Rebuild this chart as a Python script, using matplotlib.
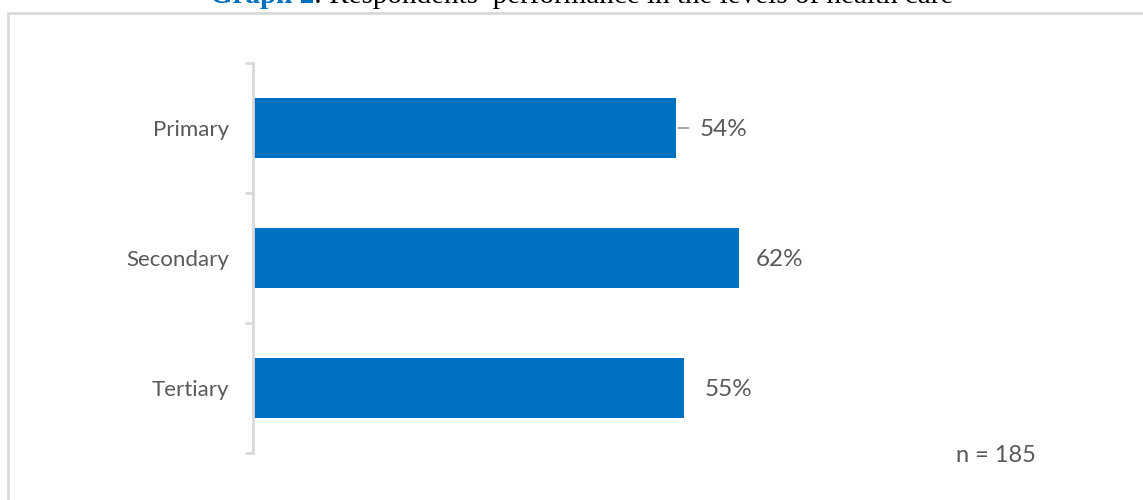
import matplotlib.pyplot as plt
from matplotlib.patches import Rectangle

# data
levels = ['Primary', 'Secondary', 'Tertiary']
performance = [54, 62, 55]
value_labels = ['54%', '62%', '55%']
sample_note = 'n = 185'

# style
bar_color = '#0070C0'
text_gray = '#595959'
axis_gray = '#D9D9D9'
label_offsets = [23, 17, 20]  # px gap between bar end and label
W, H = 1143, 500

fig = plt.figure(figsize=(W / 100, H / 100), dpi=100)

# outer chart frame (cut at right and bottom like the screenshot)
fig.patches.append(Rectangle((8 / W, -0.1), 1.2, 1 - 12.5 / H + 0.1,
                             transform=fig.transFigure, fill=False,
                             edgecolor=axis_gray, linewidth=2))

# title, partly cut off at the top as in the source screenshot
t1 = fig.text(210 / W, 1 - 9 / H, 'Graph 2', color=bar_color, weight='bold',
              family='Liberation Serif', fontsize=21, va='bottom')

ax = fig.add_axes([253 / W, 47 / H, (1110 - 253) / W, 390 / H])
ax.annotate(': Respondents\u2019 performance in the levels of health care',
            xy=(1, 0), xycoords=t1, va='bottom', ha='left',
            color='black', family='Liberation Serif', fontsize=21,
            annotation_clip=False)

px_per_unit = 7.84
ax.set_xlim(0, (1110 - 253) / px_per_unit)
ax.set_ylim(2.5, -0.5)

ypos = list(range(len(levels)))
ax.barh(ypos, performance, height=60 / 130, color=bar_color, zorder=2)

for i, (v, lab) in enumerate(zip(performance, value_labels)):
    ax.annotate(lab, xy=(v, i), xytext=(label_offsets[i] * 0.72, -1),
                textcoords='offset points', va='center', ha='left',
                color=text_gray, family='Lato', fontsize=17.5)

# leader line on the first label
ax.annotate('', xy=(performance[0], 0), xytext=(12 * 0.72, 0),
            textcoords='offset points', xycoords='data',
            arrowprops=dict(arrowstyle='-', color='#A6A6A6', lw=1.5,
                            shrinkA=0, shrinkB=1.5))

for s in ['top', 'right', 'bottom']:
    ax.spines[s].set_visible(False)
ax.spines['left'].set_color(axis_gray)
ax.spines['left'].set_linewidth(2)
ax.set_xticks([])
ax.set_yticks(ypos)
ax.set_yticklabels(levels, family='Lato', fontsize=16, color=text_gray)
ax.tick_params(axis='y', which='major', length=0, pad=17)
ax.set_yticks([-0.5, 0.5, 1.5, 2.5], minor=True)
ax.tick_params(axis='y', which='minor', length=6, width=2, color=axis_gray)

fig.text(956 / W, 1 - 455 / H, sample_note, color=text_gray, family='Lato',
         fontsize=17, va='center', ha='left')

fig.savefig('out.png', dpi=100)
